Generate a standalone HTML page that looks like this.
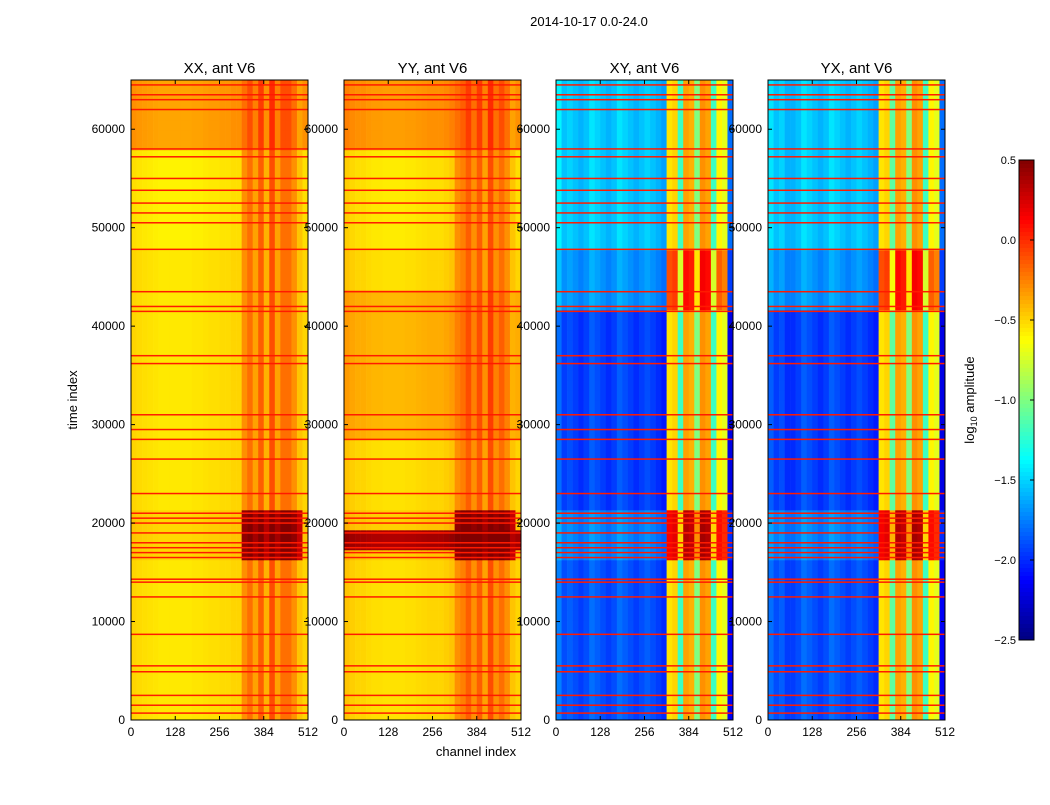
<!DOCTYPE html>
<html><head><meta charset="utf-8"><style>
body{margin:0;background:#fff;width:1050px;height:800px;overflow:hidden}
svg{font-family:"Liberation Sans",sans-serif}
</style></head><body>
<svg id="fig" width="1050" height="800" xmlns="http://www.w3.org/2000/svg">
<text x="589" y="26" font-size="13" text-anchor="middle">2014-10-17 0.0-24.0</text>
<text x="476" y="756" font-size="13" text-anchor="middle">channel index</text>
<text x="77" y="400" font-size="13" text-anchor="middle" transform="rotate(-90 77 400)">time index</text>
<g id="panels"></g>
<g id="cbar"></g>
<text x="974" y="400" font-size="13" text-anchor="middle" transform="rotate(-90 974 400)">log<tspan font-size="9" dy="3">10</tspan><tspan dy="-3"> amplitude</tspan></text>
</svg>
<script>
const titles=["XX, ant V6","YY, ant V6","XY, ant V6","YX, ant V6"];
const panelX=[131,344,556,768];
const xTicks=[0,128,256,384,512];
const yTicks=[0,10000,20000,30000,40000,50000,60000];
const cbTicks=[0.5,0.0,-0.5,-1.0,-1.5,-2.0,-2.5];
// channel profiles, 32 bins of 16 channels
const profXX=[-0.5,-0.52,-0.53,-0.54,-0.55,-0.56,-0.56,-0.56,-0.56,-0.56,-0.56,-0.55,-0.55,-0.54,-0.53,-0.53,-0.52,-0.52,-0.5,-0.5,-0.3,-0.2,-0.35,-0.15,-0.4,-0.1,-0.35,-0.2,-0.2,-0.3,-0.45,-0.5];
const profYY=[-0.45,-0.48,-0.5,-0.5,-0.52,-0.53,-0.53,-0.54,-0.54,-0.54,-0.54,-0.53,-0.53,-0.52,-0.51,-0.5,-0.5,-0.5,-0.48,-0.45,-0.3,-0.25,-0.15,-0.3,-0.15,-0.35,-0.1,-0.3,-0.2,-0.3,-0.45,-0.5];
const profXY=[-1.6,-1.75,-1.7,-1.75,-1.8,-1.75,-1.65,-1.7,-1.75,-1.8,-1.75,-1.65,-1.7,-1.75,-1.8,-1.75,-1.7,-1.75,-1.8,-1.85,-0.55,-0.5,-1.2,-0.35,-0.4,-1.0,-0.3,-0.35,-1.2,-0.6,-0.7,-2.0];
const profYX=[-1.65,-1.75,-1.7,-1.8,-1.8,-1.75,-1.65,-1.7,-1.75,-1.8,-1.75,-1.65,-1.7,-1.75,-1.8,-1.75,-1.7,-1.75,-1.8,-1.85,-0.55,-0.5,-1.1,-0.35,-0.4,-1.0,-0.3,-0.35,-1.2,-0.6,-0.7,-2.0];
// time segments [t0,t1,offsetQuiet,offsetActive]
const segXX=[[0,16000,0,0],[16000,21500,0.05,0.75],[21500,48000,0,0],[48000,58000,-0.03,0],[58000,65000,0.2,0.1]];
const segYY=[[0,16000,0,0],[16000,17500,0.05,0.75],[17500,18800,0.9,0.8],[18800,21500,0.05,0.75],[21500,28500,0,0],[28500,44000,0.12,0.05],[44000,48000,0,0],[48000,58000,-0.03,0],[58000,65000,0.2,0.1]];
const segXY=[[0,16000,-0.15,0],[16000,21500,0.0,0.7],[21500,42000,-0.2,0],[42000,48000,0.05,0.45],[48000,65000,0.2,0]];
const segYX=[[0,16000,-0.15,0],[16000,21500,0.0,0.7],[21500,42000,-0.2,0],[42000,48000,0.05,0.45],[48000,65000,0.2,0]];
// flagged (red) time rows
const flags=[700,1500,2500,4900,5500,8700,12500,14000,14300,16500,17000,17500,18000,19000,20000,20500,21000,23000,26500,28500,29500,31000,36200,37000,41500,42000,43500,47800,50500,51500,52500,53800,55000,57200,58000,62000,63000,63500,64500];
const profs=[profXX,profYY,profXY,profYX];
const segs=[segXX,segYY,segXY,segYX];
const TMAX=65000,PW=177,PT=80,PH=640,NT=64,NC=32;
const vmin=-2.5,vmax=0.5;
function jet(v){let t=(v-vmin)/(vmax-vmin);t=Math.max(0,Math.min(1,t));
 const r=Math.min(1,Math.max(0,1.5-Math.abs(4*t-3))),g=Math.min(1,Math.max(0,1.5-Math.abs(4*t-2))),b=Math.min(1,Math.max(0,1.5-Math.abs(4*t-1)));
 return `rgb(${Math.round(r*255)},${Math.round(g*255)},${Math.round(b*255)})`;}
function yScale(t){return PT+PH-t/TMAX*PH;}
function xScale(px,c){return px+c/512*PW;}
const NS="http://www.w3.org/2000/svg";
function mk(tag,attrs,parent){const e=document.createElementNS(NS,tag);for(const k in attrs)e.setAttribute(k,attrs[k]);parent.appendChild(e);return e;}
const root=document.getElementById('panels');
for(let p=0;p<4;p++){
 const g=mk('g',{},root);
 
 
 const px=panelX[p];
 for(let r=0;r<NT;r++){
  const t0=r*TMAX/NT,t1=(r+1)*TMAX/NT,tm=(t0+t1)/2;
  let seg=segs[p].find(s=>tm>=s[0]&&tm<s[1])||[0,0,0,0];
  for(let c=0;c<NC;c++){
   const active=c>=20&&c<=30;
   const v=profs[p][c]+(active?seg[3]:seg[2]);
   const x0=xScale(px,c*16),x1=xScale(px,(c+1)*16);
   const rc=mk('rect',{x:x0,y:yScale(t1),width:x1-x0+0.3,height:yScale(t0)-yScale(t1)+0.3,fill:jet(v)},g);
   
   
  }
 }
 for(const f of flags){
  const ln=mk('rect',{x:px,y:yScale(f)-0.75,width:PW,height:1.5,fill:jet(0.05)},g);
  
  
 }
 const fr=mk('rect',{x:px,y:PT,width:PW,height:PH,fill:'none',stroke:'#000','stroke-width':1},g);
 
 
 const tt=mk('text',{x:px+PW/2,y:73,'font-size':15,'text-anchor':'middle'},g);tt.textContent=titles[p];
 
 
 for(const xt of xTicks){const x=xScale(px,xt);
  mk('line',{x1:x,x2:x,y1:PT+PH,y2:PT+PH-4,stroke:'#000'},g);mk('line',{x1:x,x2:x,y1:PT,y2:PT+4,stroke:'#000'},g);
  const l=mk('text',{x:x,y:736,'font-size':12,'text-anchor':'middle'},g);l.textContent=xt;
  
  }
 for(const yt of yTicks){const y=yScale(yt);
  mk('line',{x1:px,x2:px+4,y1:y,y2:y,stroke:'#000'},g);mk('line',{x1:px+PW,x2:px+PW-4,y1:y,y2:y,stroke:'#000'},g);
  const l=mk('text',{x:px-6,y:y+4,'font-size':12,'text-anchor':'end'},g);l.textContent=yt;
  
  }
}
const cb=document.getElementById('cbar');
const CX=1019,CW=15,CT=160,CH=480;
for(let i=0;i<120;i++){const v=vmax-(i+0.5)/120*(vmax-vmin);
 const r=mk('rect',{x:CX,y:CT+i*CH/120,width:CW,height:CH/120+0.5,fill:jet(v)},cb);
 
 }
mk('rect',{x:CX,y:CT,width:CW,height:CH,fill:'none',stroke:'#000'},cb);
for(const v of cbTicks){const y=CT+(vmax-v)/(vmax-vmin)*CH;
 mk('line',{x1:CX+CW-4,x2:CX+CW,y1:y,y2:y,stroke:'#000'},cb);
 const l=mk('text',{x:CX-3,y:y+4,'font-size':11,'text-anchor':'end'},cb);l.textContent=(v<0?'\u2212':'')+Math.abs(v).toFixed(1);
 
 }
</script>
</body></html>
